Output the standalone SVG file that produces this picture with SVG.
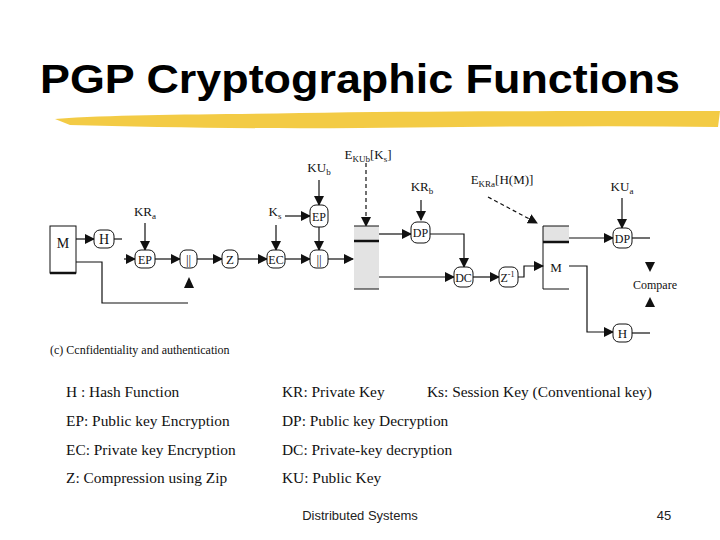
<svg xmlns="http://www.w3.org/2000/svg" width="720" height="540" viewBox="0 0 720 540">
<defs>
<style>
.t{font-family:"Liberation Serif",serif;fill:#111}
.n{fill:#fff;stroke:#111;stroke-width:1}
.l{fill:none;stroke:#111;stroke-width:1.2}
.d{fill:none;stroke:#111;stroke-width:1.2;stroke-dasharray:4,3}
.lg{font-family:"Liberation Serif",serif;font-size:15.4px;fill:#111}
</style>
<marker id="a" markerWidth="10" markerHeight="10" refX="9" refY="5" orient="auto" markerUnits="userSpaceOnUse"><path d="M0,0 L10,5 L0,10 Z" fill="#111"/></marker>
</defs>
<rect width="720" height="540" fill="#fff"/>
<text x="360" y="93" text-anchor="middle" font-family="Liberation Sans,Arial,sans-serif" font-weight="bold" font-size="40" textLength="640" lengthAdjust="spacingAndGlyphs">PGP Cryptographic Functions</text>
<path d="M55,119 C120,114 200,115 300,113 C420,111 560,111 720,111 L718,127 C600,125 480,127 360,128 C250,129 150,127 70,125 Z" fill="#f2c531" opacity="0.9"/>
<g id="connectors">
<path class="l" d="M76,239 H94" marker-end="url(#a)"/>
<path class="l" d="M114,239 H122"/>
<path class="l" d="M124,259 H135" marker-end="url(#a)"/>
<path class="l" d="M145,223 V250" marker-end="url(#a)"/>
<path class="l" d="M155,259 H180" marker-end="url(#a)"/>
<path class="l" d="M197,259 H222" marker-end="url(#a)"/>
<path class="l" d="M238,259 H267" marker-end="url(#a)"/>
<path class="l" d="M276,225 V250" marker-end="url(#a)"/>
<path class="l" d="M285,216 H310" marker-end="url(#a)"/>
<path class="l" d="M319,180 V205" marker-end="url(#a)"/>
<path class="l" d="M319,227 V250" marker-end="url(#a)"/>
<path class="l" d="M285,259 H310" marker-end="url(#a)"/>
<path class="l" d="M328,259 H353" marker-end="url(#a)"/>
<path class="l" d="M76,262 H102 V303 H188"/>
<path d="M184,288 L189,277 L194,288 Z" fill="#111"/>
<path class="d" d="M366,163 V226" marker-end="url(#a)"/>
<path class="l" d="M379,234 H411" marker-end="url(#a)"/>
<path class="l" d="M421,200 V220" marker-end="url(#a)"/>
<path class="l" d="M430,234 H464 V267" marker-end="url(#a)"/>
<path class="l" d="M379,277 H454" marker-end="url(#a)"/>
<path class="l" d="M473,277 H499" marker-end="url(#a)"/>
<path class="l" d="M518,277 H524 V266 H543" marker-end="url(#a)"/>
<path class="d" d="M488,197 L537,223" marker-end="url(#a)"/>
<path class="l" d="M569,238 H613" marker-end="url(#a)"/>
<path class="l" d="M622,198 V228" marker-end="url(#a)"/>
<path class="l" d="M632,238 H650"/>
<path class="l" d="M569,266 H587 V332 H613" marker-end="url(#a)"/>
<path class="l" d="M632,333 H650"/>
<path d="M645,262 L655,262 L650,272 Z" fill="#111"/>
<path d="M645,307 L650,297 L655,307 Z" fill="#111"/>
</g>
<g id="M"><rect x="50" y="226" width="26" height="47" class="n"/><path d="M50,273 H76" stroke="#111" stroke-width="2.5"/><text class="t" x="63" y="248" font-size="14" text-anchor="middle">M</text></g>
<g id="H1"><rect x="94" y="230" width="20" height="18" rx="6" class="n"/><text class="t" x="104" y="244" font-size="14" text-anchor="middle">H</text></g>
<g id="EP1"><rect x="135" y="250" width="20" height="18" rx="6" class="n"/><text class="t" x="145" y="264" font-size="12" text-anchor="middle" fill="#555">EP</text></g>
<g id="C1"><rect x="180" y="250" width="17" height="18" rx="6" class="n"/><text class="t" x="188.5" y="264" font-size="13" text-anchor="middle" fill="#555">||</text></g>
<g id="Z"><rect x="222" y="250" width="16" height="18" rx="6" class="n"/><text class="t" x="230" y="264" font-size="13" text-anchor="middle">Z</text></g>
<g id="EC"><rect x="267" y="250" width="18" height="18" rx="6" class="n"/><text class="t" x="276" y="264" font-size="12" text-anchor="middle">EC</text></g>
<g id="EP2"><rect x="310" y="205" width="18" height="22" rx="6" class="n"/><text class="t" x="319" y="221" font-size="12" text-anchor="middle" fill="#555">EP</text></g>
<g id="C2"><rect x="310" y="250" width="18" height="18" rx="6" class="n"/><text class="t" x="319" y="264" font-size="13" text-anchor="middle" fill="#555">||</text></g>
<g id="box1"><rect x="354" y="226" width="25" height="63" fill="#e3e3e3"/><path d="M354,226 H379 M354,289 H379" stroke="#111"/><path d="M354,241 H379" stroke="#111" stroke-width="2.5"/></g>
<g id="DP1"><rect x="411" y="222" width="19" height="21" rx="6" class="n"/><text class="t" x="420.5" y="237" font-size="12" text-anchor="middle">DP</text></g>
<g id="DC"><rect x="454" y="267" width="19" height="20" rx="6" class="n"/><text class="t" x="463.5" y="282" font-size="12" text-anchor="middle">DC</text></g>
<g id="Zinv"><rect x="499" y="267" width="19" height="20" rx="6" class="n"/><text class="t" x="507.5" y="282" font-size="12" text-anchor="middle">Z<tspan font-size="8" dy="-5">-1</tspan></text></g>
<g id="box2"><rect x="543" y="226" width="26" height="16" fill="#e3e3e3"/><path d="M569,226 H543 V289 H569" fill="none" stroke="#111"/><path d="M543,242 H569" stroke="#111" stroke-width="2.5"/><text class="t" x="556" y="272" font-size="13" text-anchor="middle">M</text></g>
<g id="DP2"><rect x="613" y="228" width="19" height="20" rx="6" class="n"/><text class="t" x="622.5" y="243" font-size="12" text-anchor="middle">DP</text></g>
<g id="H2"><rect x="613" y="324" width="19" height="18" rx="6" class="n"/><text class="t" x="622.5" y="338" font-size="13" text-anchor="middle">H</text></g>
<g id="labels" class="t" font-size="13">
<text x="145" y="216" text-anchor="middle">KR<tspan font-size="9" dy="3">a</tspan></text>
<text x="275" y="216" text-anchor="middle">K<tspan font-size="9" dy="3">s</tspan></text>
<text x="319" y="172" text-anchor="middle">KU<tspan font-size="9" dy="3">b</tspan></text>
<text x="368" y="159" text-anchor="middle">E<tspan font-size="9" dy="3">KUb</tspan><tspan dy="-3">[K</tspan><tspan font-size="9" dy="3">s</tspan><tspan dy="-3">]</tspan></text>
<text x="422" y="191" text-anchor="middle">KR<tspan font-size="9" dy="3">b</tspan></text>
<text x="502" y="184" text-anchor="middle">E<tspan font-size="9" dy="3">KRa</tspan><tspan dy="-3">[H(M)]</tspan></text>
<text x="622" y="191" text-anchor="middle">KU<tspan font-size="9" dy="3">a</tspan></text>
<text x="655" y="289" text-anchor="middle" font-size="12">Compare</text>
<text x="50" y="354" font-size="12">(c) Ccnfidentiality and authentication</text>
</g>
<g id="legend">
<text class="lg" x="66" y="397">H : Hash Function</text>
<text class="lg" x="282" y="397">KR: Private Key</text>
<text class="lg" x="427" y="397">Ks: Session Key (Conventional key)</text>
<text class="lg" x="66" y="426">EP: Public key Encryption</text>
<text class="lg" x="282" y="426">DP: Public key Decryption</text>
<text class="lg" x="66" y="455">EC: Private key Encryption</text>
<text class="lg" x="282" y="455">DC: Private-key decryption</text>
<text class="lg" x="66" y="483">Z: Compression using Zip</text>
<text class="lg" x="282" y="483">KU: Public Key</text>
</g>
<text x="360" y="520" text-anchor="middle" font-family="Liberation Sans,Arial,sans-serif" font-size="13" fill="#222">Distributed Systems</text>
<text x="664" y="520" text-anchor="middle" font-family="Liberation Sans,Arial,sans-serif" font-size="13" fill="#222">45</text>
</svg>
